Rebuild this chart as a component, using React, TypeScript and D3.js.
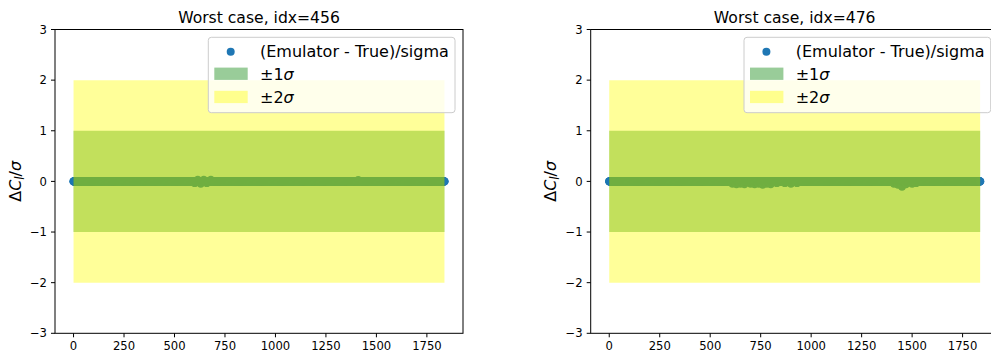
import React from "react";
import * as d3 from "d3";

// Multipole range covered by each residual curve
const ELL_FIRST = 0;
const ELL_LAST = 1837;

// Panel titles
const TITLES = ["Worst case, idx=456", "Worst case, idx=476"];

// Residuals (Emulator - True)/sigma that depart visibly from zero; every other multipole sits at 0
const DEV_ELL_456 = [600, 615, 630, 645, 660, 680, 1410];
const DEV_VAL_456 = [-0.03, 0.03, -0.04, 0.03, -0.03, 0.03, 0.025];

const DEV_ELL_476 = [610, 630, 650, 670, 700, 720, 740, 760, 780, 800, 830, 870, 900, 930, 1410, 1430, 1450, 1470, 1500, 1520];
const DEV_VAL_476 = [-0.04, -0.05, -0.04, -0.05, -0.04, -0.05, -0.04, -0.06, -0.04, -0.05, -0.03, -0.03, -0.04, -0.03, -0.04, -0.06, -0.1, -0.05, -0.04, -0.03];

// Axis ticks
const X_TICKS = [0, 250, 500, 750, 1000, 1250, 1500, 1750];
const Y_TICKS = [-3, -2, -1, 0, 1, 2, 3];

// Band half-widths in units of sigma
const BAND_1 = 1;
const BAND_2 = 2;

const FONT = "'DejaVu Sans', sans-serif";
const BLUE = "#1f77b4";

const W = 991;
const H = 353;
const AX_W = 408;
const AX_TOP = 29.5;
const AX_BOTTOM = 333.3;
const PANEL_LEFTS = [55, 590.7];

function buildSeries(devEll: number[], devVal: number[]) {
  const dev = new Map<number, number>();
  devEll.forEach((l, i) => dev.set(l, devVal[i]));
  return d3.range(ELL_FIRST, ELL_LAST + 1).map((l) => ({ x: l, y: dev.get(l) ?? 0 }));
}

const SERIES = [buildSeries(DEV_ELL_456, DEV_VAL_456), buildSeries(DEV_ELL_476, DEV_VAL_476)];

function minus(v: number) {
  return v < 0 ? "\u2212" + Math.abs(v) : String(v);
}

function Panel({ left, title, data }: { left: number; title: string; data: { x: number; y: number }[] }) {
  const span = ELL_LAST - ELL_FIRST;
  const x = d3
    .scaleLinear()
    .domain([ELL_FIRST - 0.05 * span, ELL_LAST + 0.05 * span])
    .range([left, left + AX_W]);
  const y = d3.scaleLinear().domain([-3, 3]).range([AX_BOTTOM, AX_TOP]);

  const bandArea = (h: number) =>
    d3
      .area<number>()
      .x((d) => x(d))
      .y0(() => y(-h))
      .y1(() => y(h))([ELL_FIRST, ELL_LAST]) as string;

  const right = left + AX_W;
  const cx = left + AX_W / 2;

  // legend geometry (upper right)
  const lgRight = right - 8;
  const lgLeft = lgRight - 246.7;
  const lgTop = 37.3;
  const lgBottom = 112.7;
  const rows = [51.7, 73.8, 97];
  const patchX = lgLeft + 6;
  const textX = lgLeft + 51.7;

  return (
    <g>
      {/* scatter of residuals */}
      <g>
        {data.map((d, i) => (
          <circle key={i} cx={x(d.x)} cy={y(d.y)} r={4.2} fill={BLUE} />
        ))}
      </g>
      {/* sigma bands */}
      <path d={bandArea(BAND_1)} fill="#008000" fillOpacity={0.4} />
      <path d={bandArea(BAND_2)} fill="#ffff00" fillOpacity={0.4} />

      {/* spines */}
      <rect x={left} y={AX_TOP} width={AX_W} height={AX_BOTTOM - AX_TOP} fill="none" stroke="#000" strokeWidth={1} />

      {/* x ticks */}
      {X_TICKS.map((t) => (
        <g key={"x" + t}>
          <line x1={x(t)} x2={x(t)} y1={AX_BOTTOM} y2={AX_BOTTOM + 4} stroke="#000" strokeWidth={1} />
          <text x={x(t)} y={AX_BOTTOM + 16.5} textAnchor="middle" fontFamily={FONT} fontSize={11.6} fill="#000">
            {t}
          </text>
        </g>
      ))}
      {/* y ticks */}
      {Y_TICKS.map((t) => (
        <g key={"y" + t}>
          <line x1={left - 4} x2={left} y1={y(t)} y2={y(t)} stroke="#000" strokeWidth={1} />
          <text x={left - 8} y={y(t)} dy="0.36em" textAnchor="end" fontFamily={FONT} fontSize={11.6} fill="#000">
            {minus(t)}
          </text>
        </g>
      ))}

      {/* y label: ΔC_l/σ */}
      <text
        transform={`translate(${left - 34.5},${(AX_TOP + AX_BOTTOM) / 2}) rotate(-90)`}
        textAnchor="middle"
        fontFamily={FONT}
        fontSize={16}
        fill="#000"
      >
        <tspan>Δ</tspan>
        <tspan fontStyle="italic">C</tspan>
        <tspan fontStyle="italic" fontSize={11.5} dy={3}>l</tspan>
        <tspan dy={-3}>/</tspan>
        <tspan fontStyle="italic">σ</tspan>
      </text>

      {/* title */}
      <text x={cx} y={22.5} textAnchor="middle" fontFamily={FONT} fontSize={15.6} fill="#000">
        {title}
      </text>

      {/* legend */}
      <rect
        x={lgLeft}
        y={lgTop}
        width={lgRight - lgLeft}
        height={lgBottom - lgTop}
        rx={3}
        fill="#fff"
        fillOpacity={0.8}
        stroke="#cccccc"
        strokeWidth={1}
      />
      <circle cx={lgLeft + 22.4} cy={rows[0]} r={4} fill={BLUE} />
      <rect x={patchX} y={rows[1] - 6.2} width={33.4} height={12.3} fill="#008000" fillOpacity={0.4} />
      <rect x={patchX} y={rows[2] - 6.2} width={33.4} height={12.3} fill="#ffff00" fillOpacity={0.4} />
      <text x={textX} y={rows[0]} dy="0.36em" fontFamily={FONT} fontSize={16} fill="#000">
        (Emulator - True)/sigma
      </text>
      <text x={textX} y={rows[1]} dy="0.36em" fontFamily={FONT} fontSize={16} fill="#000">
        <tspan>±1</tspan>
        <tspan fontStyle="italic">σ</tspan>
      </text>
      <text x={textX} y={rows[2]} dy="0.36em" fontFamily={FONT} fontSize={16} fill="#000">
        <tspan>±2</tspan>
        <tspan fontStyle="italic">σ</tspan>
      </text>
    </g>
  );
}

export default function App() {
  return (
    <svg
      width={W}
      height={H}
      viewBox={`0 0 ${W} ${H}`}
      style={{ position: "absolute", left: 0, top: 0, background: "#fff", display: "block" }}
    >
      <rect x={0} y={0} width={W} height={H} fill="#fff" />
      {PANEL_LEFTS.map((left, i) => (
        <Panel key={i} left={left} title={TITLES[i]} data={SERIES[i]} />
      ))}
    </svg>
  );
}
